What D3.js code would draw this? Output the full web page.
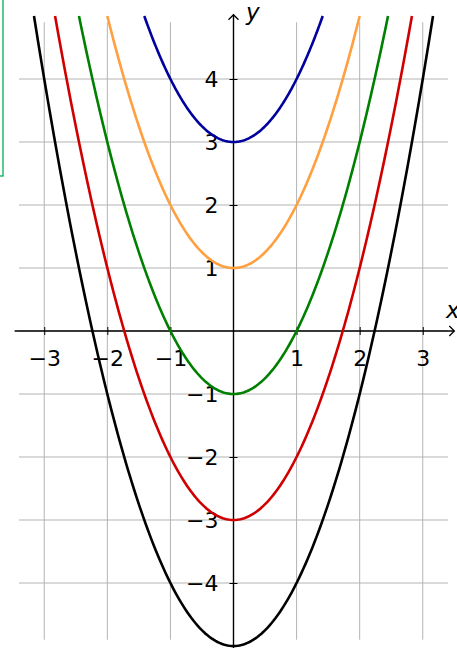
<!DOCTYPE html>
<html>
<head>
<meta charset="utf-8">
<script src="https://cdn.jsdelivr.net/npm/d3@7"></script>
<style>
  body { margin: 0; background: #fff; }
  svg { display: block; font-family: "DejaVu Sans", sans-serif; }
</style>
</head>
<body>
<svg id="chart" width="457" height="648"></svg>
<script>
// parabolas y = x^2 + c
var offsets = [3, 1, -1, -3, -5];
var colors = ["#00009f", "#ff9f3f", "#008000", "#d00000", "#000000"];
var xTicks = [-3, -2, -1, 1, 2, 3];
var yTicks = [-4, -3, -2, -1, 1, 2, 3, 4];
var gridX = [-3, -2, -1, 0, 1, 2, 3];
var gridY = [-4, -3, -2, -1, 0, 1, 2, 3, 4];

var svg = d3.select("#chart");

var x = d3.scaleLinear().domain([-3.4, 3.4]).range([19, 448]);
var y = d3.scaleLinear().domain([4.9, -4.9]).range([22.3, 639.7]);
var fmt = d3.format("d");

// green frame at top left (cut off)
svg.append("rect")
    .attr("x", -20).attr("y", -20)
    .attr("width", 23).attr("height", 196)
    .attr("fill", "none")
    .attr("stroke", "#00b050")
    .attr("stroke-width", 1.3);

// grid
svg.append("g").selectAll("line")
    .data(gridX)
    .join("line")
    .attr("x1", function(d) { return x(d) })
    .attr("x2", function(d) { return x(d) })
    .attr("y1", y(4.9))
    .attr("y2", y(-4.9))
    .attr("stroke", "#b3b3b3")
    .attr("stroke-width", 1);

svg.append("g").selectAll("line")
    .data(gridY)
    .join("line")
    .attr("x1", x(-3.4))
    .attr("x2", x(3.4))
    .attr("y1", function(d) { return y(d) })
    .attr("y2", function(d) { return y(d) })
    .attr("stroke", "#b3b3b3")
    .attr("stroke-width", 1);

// axes
var xAxis = svg.append("g")
    .attr("transform", "translate(0," + y(0) + ")")
    .call(d3.axisBottom(x).tickValues(xTicks).tickFormat(fmt).tickSize(4).tickPadding(0));
xAxis.select(".domain").remove();
xAxis.selectAll(".tick line").attr("y1", -4).attr("y2", 4).attr("stroke", "#000").attr("stroke-width", 1);
xAxis.selectAll(".tick text")
    .attr("y", 35).attr("dy", 0)
    .attr("fill", "#000")
    .style("font-size", "22px")
    .style("font-family", "DejaVu Sans");

var yAxis = svg.append("g")
    .attr("transform", "translate(" + x(0) + ",0)")
    .call(d3.axisLeft(y).tickValues(yTicks).tickFormat(fmt).tickSize(4).tickPadding(0));
yAxis.select(".domain").remove();
yAxis.selectAll(".tick line").attr("x1", -4).attr("x2", 4).attr("stroke", "#000").attr("stroke-width", 1);
yAxis.selectAll(".tick text")
    .attr("x", -15).attr("dy", "0.36em")
    .attr("fill", "#000")
    .style("font-size", "22px")
    .style("font-family", "DejaVu Sans");

// axis lines with open arrowheads
svg.append("line")
    .attr("x1", x(-3.47)).attr("x2", x(3.5))
    .attr("y1", y(0)).attr("y2", y(0))
    .attr("stroke", "#000").attr("stroke-width", 1.4);
svg.append("line")
    .attr("x1", x(0)).attr("x2", x(0))
    .attr("y1", y(-5.4)).attr("y2", y(5.02))
    .attr("stroke", "#000").attr("stroke-width", 1.4);

var ax = x(3.5), ay = y(0);
svg.append("path")
    .attr("d", "M" + (ax - 5) + "," + (ay - 5) + "L" + ax + "," + ay + "L" + (ax - 5) + "," + (ay + 5))
    .attr("fill", "none").attr("stroke", "#000").attr("stroke-width", 1.3);
var bx = x(0), by = y(5.02);
svg.append("path")
    .attr("d", "M" + (bx - 5) + "," + (by + 5) + "L" + bx + "," + by + "L" + (bx + 5) + "," + (by + 5))
    .attr("fill", "none").attr("stroke", "#000").attr("stroke-width", 1.3);

svg.append("text")
    .attr("x", 446).attr("y", 318)
    .style("font-size", "23px").style("font-style", "italic")
    .text("x");
svg.append("text")
    .attr("x", 246).attr("y", 20)
    .style("font-size", "23px").style("font-style", "italic")
    .text("y");

// curves, drawn up to y = 5
var line = d3.line()
    .x(function(d) { return x(d[0]) })
    .y(function(d) { return y(d[1]) });

svg.append("g").selectAll("path")
    .data(offsets)
    .join("path")
    .attr("d", function(c, i) {
      var r = Math.sqrt(5 - c);
      var pts = d3.range(0, 201).map(function(k) {
        var t = -r + 2 * r * k / 200;
        return [t, t * t + c];
      });
      return line(pts);
    })
    .attr("fill", "none")
    .attr("stroke", function(c, i) { return colors[i] })
    .attr("stroke-width", 2.6);
</script>
</body>
</html>
